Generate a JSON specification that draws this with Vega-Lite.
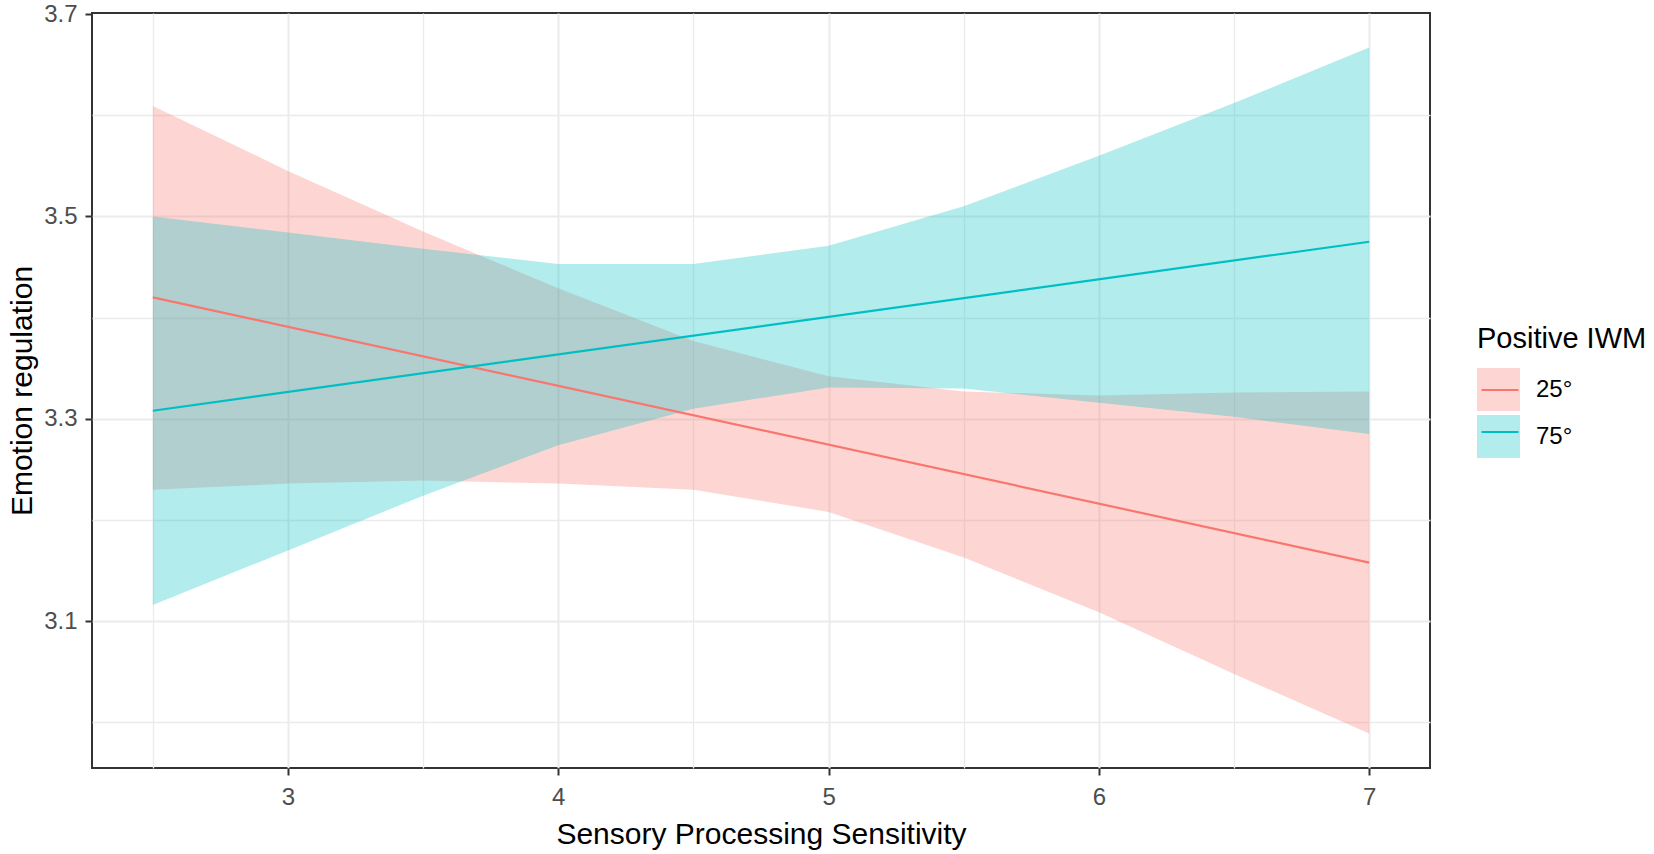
{
  "$schema": "https://vega.github.io/schema/vega-lite/v6.json",
  "width": 1338,
  "height": 755,
  "autosize": {"type": "none"},
  "padding": {"left": 92, "top": 13, "right": 224, "bottom": 86},
  "background": "white",
  "datasets": {
    "ribbon": [
      {"group": "25°", "sps": 2.5, "lower": 3.230, "upper": 3.609},
      {"group": "25°", "sps": 3.0, "lower": 3.236, "upper": 3.545},
      {"group": "25°", "sps": 3.5, "lower": 3.239, "upper": 3.485},
      {"group": "25°", "sps": 4.0, "lower": 3.236, "upper": 3.429},
      {"group": "25°", "sps": 4.5, "lower": 3.230, "upper": 3.377},
      {"group": "25°", "sps": 5.0, "lower": 3.208, "upper": 3.342},
      {"group": "25°", "sps": 5.5, "lower": 3.163, "upper": 3.327},
      {"group": "25°", "sps": 6.0, "lower": 3.109, "upper": 3.323},
      {"group": "25°", "sps": 6.5, "lower": 3.048, "upper": 3.326},
      {"group": "25°", "sps": 7.0, "lower": 2.989, "upper": 3.327},
      {"group": "75°", "sps": 2.5, "lower": 3.116, "upper": 3.500},
      {"group": "75°", "sps": 3.0, "lower": 3.170, "upper": 3.484},
      {"group": "75°", "sps": 3.5, "lower": 3.224, "upper": 3.468},
      {"group": "75°", "sps": 4.0, "lower": 3.274, "upper": 3.453},
      {"group": "75°", "sps": 4.5, "lower": 3.310, "upper": 3.453},
      {"group": "75°", "sps": 5.0, "lower": 3.331, "upper": 3.471},
      {"group": "75°", "sps": 5.5, "lower": 3.330, "upper": 3.510},
      {"group": "75°", "sps": 6.0, "lower": 3.316, "upper": 3.560},
      {"group": "75°", "sps": 6.5, "lower": 3.302, "upper": 3.612},
      {"group": "75°", "sps": 7.0, "lower": 3.285, "upper": 3.667}
    ],
    "fit": [
      {"group": "25°", "sps": 2.5, "fit": 3.420},
      {"group": "25°", "sps": 7.0, "fit": 3.158},
      {"group": "75°", "sps": 2.5, "fit": 3.308},
      {"group": "75°", "sps": 7.0, "fit": 3.475}
    ]
  },
  "layer": [
    {
      "data": {"name": "ribbon"},
      "mark": {"type": "area", "fillOpacity": 0.3},
      "encoding": {
        "x": {
          "field": "sps", "type": "quantitative",
          "scale": {"domain": [2.275, 7.225], "nice": false, "zero": false},
          "axis": {"orient": "bottom", "values": [2.5, 3.5, 4.5, 5.5, 6.5], "grid": true, "gridWidth": 1.3,
                   "labels": false, "ticks": false, "domain": false, "title": null}
        },
        "y": {
          "field": "lower", "type": "quantitative",
          "scale": {"domain": [2.955, 3.701], "nice": false, "zero": false},
          "axis": {"orient": "left", "values": [3.0, 3.2, 3.4, 3.6], "grid": true, "gridWidth": 1.3,
                   "labels": false, "ticks": false, "domain": false, "title": null}
        },
        "y2": {"field": "upper"},
        "fill": {
          "field": "group", "type": "nominal",
          "scale": {"range": ["#F8766D", "#00BFC4"]},
          "legend": {
            "orient": "none", "legendX": 1385, "legendY": 312, "padding": 0,
            "title": "Positive IWM", "titleFontSize": 29, "titleFontWeight": "normal", "titleColor": "black",
            "titlePadding": 14,
            "symbolType": "square", "symbolSize": 1849, "symbolOpacity": 0.3, "symbolStrokeWidth": 0,
            "labelFontSize": 24, "labelColor": "black", "labelOffset": 16, "rowPadding": 4
          }
        }
      }
    },
    {
      "data": {"name": "fit"},
      "mark": {"type": "line", "strokeWidth": 2.2},
      "encoding": {
        "x": {
          "field": "sps", "type": "quantitative",
          "axis": {"orient": "bottom", "values": [3, 4, 5, 6, 7], "format": "d", "grid": true, "gridWidth": 2,
                   "title": "Sensory Processing Sensitivity", "labelPadding": 10, "titlePadding": 10}
        },
        "y": {
          "field": "fit", "type": "quantitative",
          "axis": {"orient": "left", "values": [3.1, 3.3, 3.5, 3.7], "format": ".1f", "grid": true, "gridWidth": 2,
                   "gridOpacity": {"condition": {"test": "datum.value > 3.69", "value": 0}, "value": 1},
                   "title": "Emotion regulation", "labelPadding": 8, "titlePadding": 6}
        },
        "stroke": {
          "field": "group", "type": "nominal",
          "scale": {"range": ["#F8766D", "#00BFC4"]},
          "legend": {
            "orient": "none", "legendX": 1388, "legendY": 357, "padding": 0, "title": null,
            "symbolType": "stroke", "symbolSize": 1369, "symbolStrokeWidth": 2.2,
            "labelExpr": "''", "labelFontSize": 24, "rowPadding": 10
          }
        }
      }
    }
  ],
  "resolve": {"axis": {"x": "independent", "y": "independent"}},
  "config": {
    "font": "Liberation Sans",
    "view": {"stroke": "#333333", "strokeWidth": 2},
    "axis": {
      "gridColor": "#EBEBEB",
      "domain": false,
      "tickColor": "#333333",
      "tickWidth": 2,
      "tickSize": 7,
      "labelFont": "Liberation Sans",
      "labelFontSize": 24,
      "labelColor": "#4D4D4D",
      "titleFont": "Liberation Sans",
      "titleFontSize": 30,
      "titleFontWeight": "normal",
      "titleColor": "black"
    },
    "legend": {
      "labelFont": "Liberation Sans",
      "titleFont": "Liberation Sans"
    }
  }
}
